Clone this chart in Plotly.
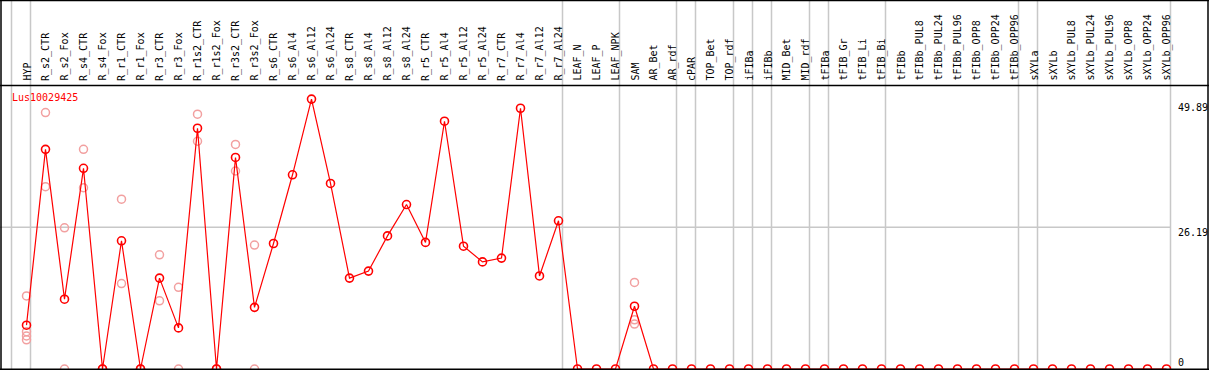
import plotly.graph_objects as go

categories = ["HYP", "R_s2_CTR", "R_s2_Fox", "R_s4_CTR", "R_s4_Fox", "R_r1_CTR", "R_r1_Fox",
              "R_r3_CTR", "R_r3_Fox", "R_r1s2_CTR", "R_r1s2_Fox", "R_r3s2_CTR", "R_r3s2_Fox",
              "R_s6_CTR", "R_s6_Al4", "R_s6_Al12", "R_s6_Al24", "R_s8_CTR", "R_s8_Al4",
              "R_s8_Al12", "R_s8_Al24", "R_r5_CTR", "R_r5_Al4", "R_r5_Al12", "R_r5_Al24",
              "R_r7_CTR", "R_r7_Al4", "R_r7_Al12", "R_r7_Al24", "LEAF_N", "LEAF_P", "LEAF_NPK",
              "SAM", "AR_Bet", "AR_rdf", "cPAR", "TOP_Bet", "TOP_rdf", "iFIBa", "iFIBb",
              "MID_Bet", "MID_rdf", "tFIBa", "tFIB_Gr", "tFIB_Li", "tFIB_Bi", "tFIBb",
              "tFIBb_PUL8", "tFIBb_PUL24", "tFIBb_PUL96", "tFIBb_OPP8", "tFIBb_OPP24",
              "tFIBb_OPP96", "sXYLa", "sXYLb", "sXYLb_PUL8", "sXYLb_PUL24", "sXYLb_PUL96",
              "sXYLb_OPP8", "sXYLb_OPP24", "sXYLb_OPP96"]

mean_values = [8.1, 40.6, 12.9, 37.1, 0, 23.7, 0, 16.8, 7.6, 44.5, 0, 39.1, 11.4,
               23.2, 35.9, 49.89, 34.3, 16.8, 18.1, 24.6, 30.4, 23.4, 45.8, 22.7, 19.8,
               20.5, 48.2, 17.2, 27.4, 0, 0, 0,
               11.6, 0, 0, 0, 0, 0, 0, 0, 0, 0, 0, 0, 0, 0, 0,
               0, 0, 0, 0, 0, 0, 0, 0, 0, 0, 0, 0, 0, 0]

replicates = {
    "HYP": [13.5, 6.9, 6.1, 5.4],
    "R_s2_CTR": [47.4, 33.7],
    "R_s2_Fox": [26.1, 0],
    "R_s4_CTR": [40.6, 33.5],
    "R_s4_Fox": [0, 0],
    "R_r1_CTR": [31.4, 15.8],
    "R_r1_Fox": [0, 0],
    "R_r3_CTR": [21.1, 12.6],
    "R_r3_Fox": [15.1, 0],
    "R_r1s2_CTR": [47.1, 42.1],
    "R_r1s2_Fox": [0, 0],
    "R_r3s2_CTR": [41.5, 36.6],
    "R_r3s2_Fox": [22.9, 0],
    "SAM": [16.0, 9.1, 8.3],
}

separators_after = [-1, 0, 28, 31, 34, 35, 37, 38, 39, 41, 42, 45, 52, 53, 60]

gene_label = "Lus10029425"
y_tick_values = [49.89, 26.19, 0]
y_tick_labels = ["49.89", "26.19", "0"]
grid_value = 26.19

W, H = 1209, 370
PX_PER_CAT = 19.0
X0_PX = 26.5
ZERO_PX = 369.0
PX_PER_UNIT = 5.41
FONT = "DejaVu Sans Mono"

x_idx = list(range(len(categories)))
x_range = [-X0_PX / PX_PER_CAT, (W - X0_PX) / PX_PER_CAT]
y_range = [(ZERO_PX - H) / PX_PER_UNIT, ZERO_PX / PX_PER_UNIT]


def py_to_paper(py):
    return (H - py) / H


rx, ry = [], []
for cat, vals in replicates.items():
    i = categories.index(cat)
    for v in vals:
        rx.append(i)
        ry.append(v)

fig = go.Figure()
fig.add_trace(go.Scatter(
    x=rx, y=ry, mode="markers",
    marker=dict(symbol="circle-open", size=8, color="#f2a0a0", line=dict(width=1.5)),
    hoverinfo="skip", showlegend=False, cliponaxis=False))
fig.add_trace(go.Scatter(
    x=x_idx, y=mean_values, mode="lines+markers",
    line=dict(color="#ff0000", width=1.2),
    marker=dict(symbol="circle-open", size=8, color="#ff0000", line=dict(width=1.6)),
    showlegend=False, cliponaxis=False))

shapes = []
off = 4.0 / PX_PER_CAT
for s in separators_after:
    shapes.append(dict(type="line", xref="x", yref="paper", x0=s + off, x1=s + off,
                       y0=0, y1=1, line=dict(color="#c8c8c8", width=1.5), layer="below"))
shapes.append(dict(type="line", xref="paper", yref="y", x0=0, x1=(X0_PX + 60 * PX_PER_CAT + 4) / W,
                   y0=grid_value, y1=grid_value, line=dict(color="#c8c8c8", width=1.5), layer="below"))
# frame
shapes.append(dict(type="line", xref="paper", yref="paper", x0=0, x1=1,
                   y0=py_to_paper(0.5), y1=py_to_paper(0.5), line=dict(color="black", width=1.5)))
shapes.append(dict(type="line", xref="paper", yref="paper", x0=0, x1=1,
                   y0=py_to_paper(85.5), y1=py_to_paper(85.5), line=dict(color="black", width=1.5)))
shapes.append(dict(type="line", xref="paper", yref="paper", x0=0, x1=1,
                   y0=py_to_paper(369.3), y1=py_to_paper(369.3), line=dict(color="black", width=1.5)))
shapes.append(dict(type="line", xref="paper", yref="paper", x0=1.0 / W, x1=1.0 / W,
                   y0=0, y1=1, line=dict(color="black", width=1.5)))
shapes.append(dict(type="line", xref="paper", yref="paper", x0=1208.0 / W, x1=1208.0 / W,
                   y0=0, y1=1, line=dict(color="black", width=1.5)))

annotations = []
for i, c in enumerate(categories):
    annotations.append(dict(text=c, x=i, xref="x", y=py_to_paper(83), yref="paper",
                            xanchor="center", yanchor="bottom", textangle=-90, showarrow=False,
                            font=dict(family=FONT, size=10, color="black")))
annotations.append(dict(text=gene_label, x=9.5 / W, xref="paper", y=py_to_paper(97), yref="paper",
                        xanchor="left", yanchor="middle", showarrow=False,
                        font=dict(family=FONT, size=10, color="#ff0000")))
label_py = {49.89: 107, 26.19: 232, 0: 362}
for v, t in zip(y_tick_values, y_tick_labels):
    if v == 0:
        ax, anc = 1177.0 / W, "left"
    else:
        ax, anc = 1.0, "right"
    annotations.append(dict(text=t, x=ax, xref="paper", y=py_to_paper(label_py[v]), yref="paper",
                            xanchor=anc, yanchor="middle", showarrow=False, borderpad=0,
                            font=dict(family=FONT, size=10, color="black")))

fig.update_layout(
    width=W, height=H, margin=dict(l=0, r=0, t=0, b=0),
    paper_bgcolor="white", plot_bgcolor="white",
    xaxis=dict(range=x_range, visible=False, fixedrange=True),
    yaxis=dict(range=y_range, visible=False, fixedrange=True),
    shapes=shapes, annotations=annotations, showlegend=False,
)

fig.write_html("out.html", config={"displayModeBar": False},
               post_script="document.body.style.margin='0';document.body.style.overflow='hidden';")
